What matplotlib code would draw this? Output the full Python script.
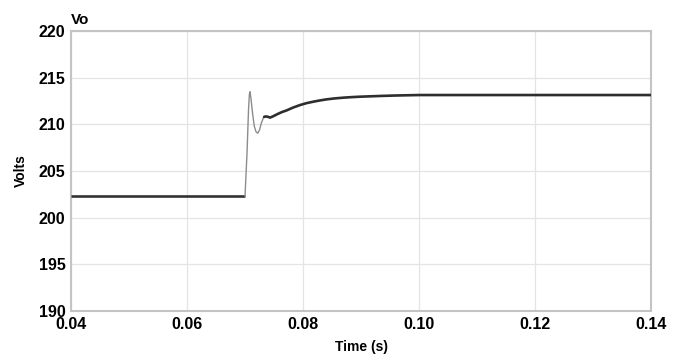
import matplotlib
matplotlib.use("Agg")
import matplotlib.pyplot as plt

# Data
t_pre = [0.04, 0.0700]
v_pre = [202.3, 202.3]

t_trans = [0.0700, 0.07035, 0.0706, 0.07075, 0.07086, 0.0710, 0.0713, 0.0716,
           0.0719, 0.0722, 0.0725, 0.0728, 0.0731, 0.0733]
v_trans = [202.3, 207.0, 211.5, 213.2, 213.5, 212.9, 211.2, 209.8,
           209.2, 209.05, 209.4, 210.1, 210.6, 210.8]

t_post = [0.0733, 0.0736, 0.0740, 0.0743, 0.0748, 0.0755, 0.0763, 0.0772,
          0.0783, 0.0795, 0.0806, 0.0818, 0.0830, 0.0841, 0.0855, 0.0870,
          0.0885, 0.0898, 0.0915, 0.0933, 0.0960, 0.1000, 0.1200, 0.1400]
v_post = [210.8, 210.85, 210.8, 210.72, 210.85, 211.07, 211.3, 211.5,
          211.8, 212.07, 212.27, 212.43, 212.57, 212.68, 212.78, 212.86,
          212.92, 212.96, 213.0, 213.04, 213.09, 213.14, 213.14, 213.14]

xticks = [0.04, 0.06, 0.08, 0.10, 0.12, 0.14]
xticklabels = ["0.04", "0.06", "0.08", "0.10", "0.12", "0.14"]
yticks = [190, 195, 200, 205, 210, 215, 220]

plt.rcParams['font.family'] = ['Liberation Sans', 'DejaVu Sans']

fig = plt.figure(figsize=(6.77, 3.61), dpi=100)
ax = fig.add_axes([0.1049, 0.1385, 0.8567, 0.7756])

ax.plot(t_pre, v_pre, color='#333333', lw=1.9, solid_capstyle='butt', zorder=3)
ax.plot(t_trans, v_trans, color='#8c8c8c', lw=1.0, zorder=3)
ax.plot(t_post, v_post, color='#2e2e2e', lw=1.9, solid_capstyle='round',
        solid_joinstyle='round', zorder=3)

ax.set_xlim(0.04, 0.14)
ax.set_ylim(190, 220)
ax.set_xticks(xticks)
ax.set_xticklabels(xticklabels)
ax.set_yticks(yticks)

ax.grid(True, color='#e4e4e4', lw=0.9, ls='-', zorder=0)
for s in ax.spines.values():
    s.set_color('#c4c4c4')
    s.set_linewidth(1.5)

ax.tick_params(axis='both', length=0, labelsize=11.5, pad=4)
for lab in ax.get_xticklabels() + ax.get_yticklabels():
    lab.set_fontweight('bold')

ax.set_xlabel('Time (s)', fontsize=10, fontweight='bold', labelpad=6)
ax.set_ylabel('Volts', fontsize=10, fontweight='bold', labelpad=8)
ax.text(0.0, 1.015, 'Vo', transform=ax.transAxes, fontsize=11,
        fontweight='bold', ha='left', va='bottom')

fig.savefig('out.png', dpi=100)
